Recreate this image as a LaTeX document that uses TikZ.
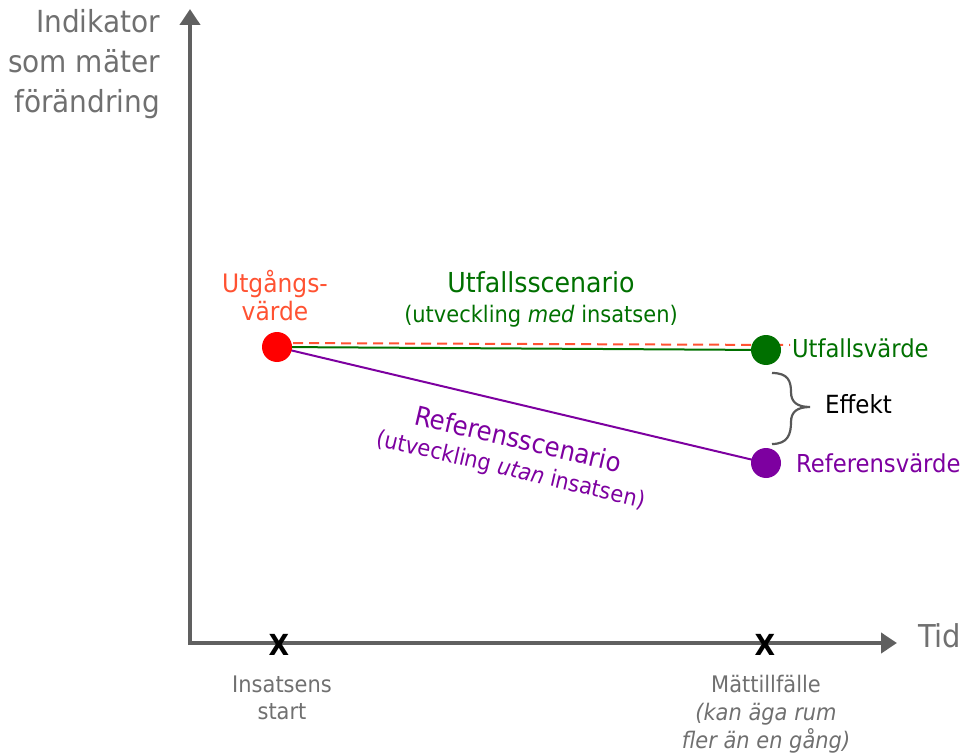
\documentclass[tikz,border=0pt]{standalone}
\usepackage{fontspec}
\setmainfont{DejaVu Sans}[FakeStretch=0.92]
\usetikzlibrary{arrows.meta}
\definecolor{axisgray}{RGB}{96,96,96}
\definecolor{txtgray}{RGB}{112,112,112}
\definecolor{redtxt}{RGB}{255,82,50}
\definecolor{reddot}{RGB}{255,0,0}
\definecolor{grn}{RGB}{0,112,0}
\definecolor{purp}{RGB}{125,0,160}
\definecolor{bracegray}{RGB}{88,88,88}
\newcommand{\myfs}[1]{\fontsize{#1}{#1}\selectfont}
\begin{document}
\begin{tikzpicture}[x=1pt,y=-1pt,
  every node/.style={inner sep=0pt, outer sep=0pt},
  axisline/.style={draw=axisgray, line width=4pt, -{Triangle[length=16pt,width=20pt]}},
  dot/.style={circle, minimum size=30pt, inner sep=0pt},
  axlbl/.style={text=txtgray, font=\myfs{30.4}},
  ticklbl/.style={text=txtgray, font=\myfs{22.8}, anchor=base},
  xmark/.style={font=\myfs{29}\bfseries, anchor=base},
  grntitle/.style={text=grn, font=\myfs{27.5}, anchor=base},
  grnsub/.style={text=grn, font=\myfs{22.8}, anchor=base},
  valuelbl/.style={font=\myfs{24.7}, anchor=base west},
  reflbl/.style={text=purp, rotate=-13.2, align=center}
]
\useasboundingbox (0,0) rectangle (967,754);

% axes
\coordinate (ybot) at (190,645);
\coordinate (ytop) at (190,9);
\coordinate (xl) at (188,643);
\coordinate (xr) at (897,643);
\draw[axisline] (ybot) -- (ytop);
\draw[axisline] (xl) -- (xr);

% axis labels
\node[axlbl, anchor=base east] (yl1) at (160,33) {Indikator};
\node[axlbl, anchor=base east] (yl2) at (160,73) {som mäter};
\node[axlbl, anchor=base east] (yl3) at (160,113) {förändring};
\node[axlbl, font=\myfs{31.5}, anchor=base west] (tid) at (918,647) {Tid};

% ticks
\node[xmark] (x1) at (279,655) {X};
\node[xmark] (x2) at (765,655) {X};
\node[ticklbl] (ins1) at (282,692) {Insatsens};
\node[ticklbl] (ins2) at (282,719) {start};
\node[ticklbl] (mt1) at (766,692) {Mättillfälle};
\node[ticklbl] (mt2) at (766,720) {\itshape (kan äga rum};
\node[ticklbl] (mt3) at (766,748) {\itshape fler än en gång)};

% points (coordinates)
\coordinate (pr) at (277,347);
\coordinate (pg) at (766,350);
\coordinate (pp) at (766,463);
\coordinate (dashstart) at (277,343);
\coordinate (dashend) at (790,345);

% lines
\draw[grn, line width=2pt] (pr) -- (pg);
\draw[redtxt, line width=2pt, dash pattern=on 10pt off 6pt] (dashstart) -- (dashend);
\draw[purp, line width=2pt] (pr) -- (pp);

% dots
\node[dot, fill=reddot] (r) at (pr) {};
\node[dot, fill=grn] (g) at (pg) {};
\node[dot, fill=purp] (p) at (pp) {};

% labels
\node[text=redtxt, font=\myfs{25.4}, anchor=base] (u1) at (275,293) {Utgångs-};
\node[text=redtxt, font=\myfs{25.4}, anchor=base] (u2) at (275,320) {värde};
\node[grntitle] (us1) at (541,293) {Utfallsscenario};
\node[grnsub] (us2) at (541,322) {(utveckling \textit{med} insatsen)};
\node[valuelbl, text=grn] (uv) at (792,357) {Utfallsvärde};
\node[valuelbl, text=purp] (rv) at (796,472) {Referensvärde};
\node[valuelbl, text=black, font=\myfs{25}] (eff) at (825,413) {Effekt};
\node[reflbl, font=\fontsize{26.6}{29}\selectfont] (rs) at (514.5,455)
  {Referensscenario\\{\fontsize{22.8}{29}\selectfont (utveckling \textit{utan} insatsen)}};

% brace
\coordinate (bt) at (772,373);
\coordinate (bb) at (772,444);
\coordinate (btip) at (810,407);
\draw[bracegray, line width=2.2pt]
  (bt) .. controls (788,373) and (791,381) .. (791,392)
  .. controls (791,402) and (797,407) .. (btip)
  .. controls (797,407) and (791,412) .. (791,422)
  .. controls (791,434) and (788,444) .. (bb);
\end{tikzpicture}
\end{document}
